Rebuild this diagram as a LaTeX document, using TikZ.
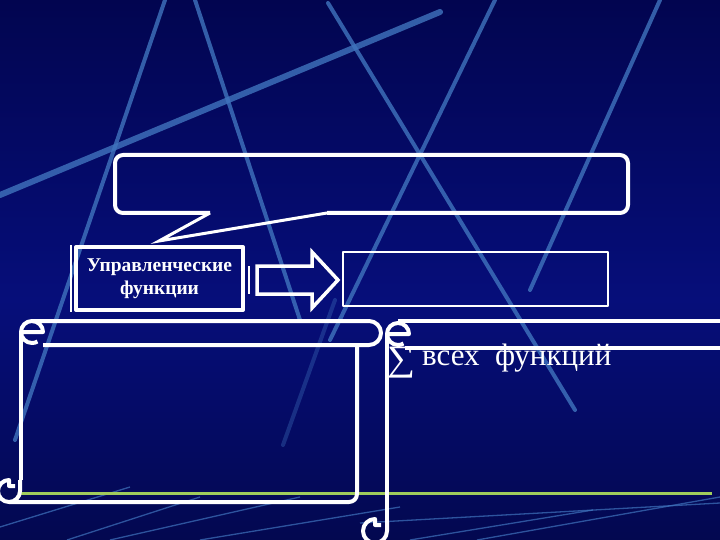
\documentclass[tikz,border=0pt]{standalone}
\usepackage{fontspec}
\setmainfont{Liberation Serif}
\usepackage{graphicx}
\usepackage{xcolor}
\usepackage{tikz}
\usetikzlibrary{positioning}

\definecolor{bgtop}{RGB}{2,5,80}
\definecolor{bgmid}{RGB}{6,14,122}
\definecolor{bgbot}{RGB}{3,8,80}
\definecolor{streakblue}{RGB}{64,116,190}
\definecolor{limeline}{RGB}{160,204,92}

\begin{document}
\begin{tikzpicture}[x=1pt,y=-1pt,white,line join=round,
    boxline/.style={draw=white,line width=4pt},
    streak/.style={draw=streakblue,line width=4pt,line cap=round,opacity=.8},
    thinstreak/.style={draw=streakblue,line width=1.3pt,opacity=.7}]

    % background
    \useasboundingbox (0,0) rectangle (720,540);
    \shade[top color=bgtop,bottom color=bgmid] (0,0) rectangle (720,300);
    \shade[top color=bgmid,bottom color=bgbot] (0,300) rectangle (720,540);

    \draw[streak] (165,0) -- (15,440);
    \draw[streak] (195,0) -- (300,320);
    \draw[streak,line width=6pt] (440,12) -- (0,195);
    \draw[streak] (328,3) -- (575,410);
    \draw[streak] (495,0) -- (330,340);
    \draw[streak] (660,0) -- (530,290);
    \draw[streak,opacity=.35] (335,300) -- (283,445);
    \draw[thinstreak] (0,527) -- (130,487);
    \draw[thinstreak] (67,540) -- (200,497);
    \draw[thinstreak] (110,540) -- (300,497);
    \draw[thinstreak] (200,540) -- (400,507);
    \draw[thinstreak] (410,540) -- (593,510);
    \draw[thinstreak] (477,540) -- (720,497);
    \draw[thinstreak] (360,523) -- (720,503);
    \draw[limeline,line width=3pt] (20,493) -- (712,493);

    % callout
    \node[minimum width=513pt,minimum height=58pt,outer sep=0pt] at (371.5,184) (bubble) {};
    \draw[boxline,rounded corners=8pt] (210,213) -- (bubble.south west) -- (bubble.north west)
        -- (bubble.north east) -- (bubble.south east) -- (327,213);
    \draw[boxline,line width=3pt,line join=miter] (210,213) -- (159,241) -- (327,213);

    % boxes
    \node[boxline,minimum width=167pt,minimum height=63pt,inner sep=0pt,align=center,
        font=\bfseries\fontsize{19.5}{23}\selectfont] at (159.5,278.5) (ctrl) {Управленческие\\функции};
    \draw[line width=1.2pt] (71,245) -- (71,312);
    \node[draw,line width=2.5pt,minimum width=265pt,minimum height=54pt,inner sep=0pt] at (475.5,279) (res) {};

    % block arrow
    \draw[boxline,line width=3.5pt,line join=miter] (257,266) -- (312,266) -- (312,252) -- (338,280)
        -- (312,308) -- (312,294) -- (257,294) -- cycle;
    \draw[line width=1.5pt] (249,266) -- (249,294);

    % left scroll
    \draw[boxline] (32,321) -- (369,321) arc[start angle=-90,end angle=90,radius=12] -- (43,345);
    \draw[boxline] (21,332) -- (43,332) arc[start angle=0,end angle=-300,radius=11];
    \draw[boxline] (21,332) -- (21,480);
    \draw[boxline] (20,480) -- (20,491) arc[start angle=0,end angle=270,radius=11] -- (9,486) -- (15,486);
    \draw[boxline,rounded corners=8pt] (357,345) -- (357,502) -- (9,502);

    % right scroll
    \draw[boxline] (398,321) -- (724,321);
    \draw[boxline] (405,348) -- (724,348);
    \draw[boxline] (387,334) -- (409,334) arc[start angle=0,end angle=-300,radius=11];
    \draw[boxline] (387,334) -- (387,522);
    \draw[boxline] (387,522) -- (387,531) arc[start angle=0,end angle=270,radius=12] -- (375,525) -- (381,525);

    \node[inner sep=0pt] at (401,363) (sigma) {\resizebox*{28pt}{31pt}{∑}};
    \node[anchor=base west,inner sep=0pt,font=\fontsize{31}{36}\selectfont] at (422,365) (sumtxt) {всех\ \ функций};

\end{tikzpicture}
\end{document}
